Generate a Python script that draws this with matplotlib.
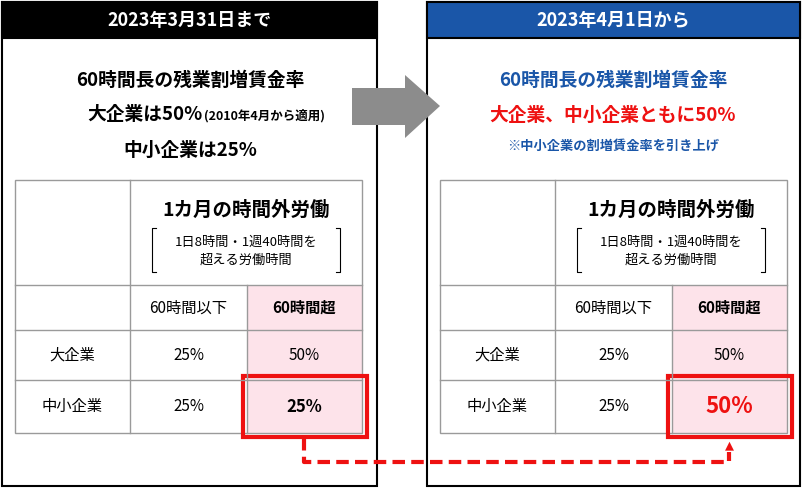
import matplotlib
matplotlib.use("Agg")
import matplotlib.pyplot as plt
from matplotlib.patches import Rectangle, Polygon, FancyArrowPatch

plt.rcParams["font.family"] = "Noto Sans CJK JP"

# data
headers = ["2023年3月31日まで", "2023年4月1日から"]
col_labels = ["60時間以下", "60時間超"]
row_labels = ["大企業", "中小企業"]
rates_before = [["25%", "50%"], ["25%", "25%"]]
rates_after = [["25%", "50%"], ["25%", "50%"]]

BLUE = "#1a56a8"
RED = "#ee1111"
PINK = "#fde3ea"
GRID = "#9a9a9a"

fig = plt.figure(figsize=(8.03, 4.88), dpi=100)
ax = fig.add_axes([0, 0, 1, 1])
ax.set_xlim(0, 803)
ax.set_ylim(488, 0)
ax.axis("off")


def panel(x0, x1, head_col, title):
    ax.add_patch(Rectangle((x0, 2), x1 - x0, 484, fc="white", ec="black", lw=1.5))
    ax.add_patch(Rectangle((x0, 2), x1 - x0, 36, fc=head_col, ec="black", lw=1.5))
    ax.text((x0 + x1) / 2, 20, title, color="white", fontsize=13, weight="bold",
            ha="center", va="center")


def table(x0, rates, last_big):
    xs = [x0, x0 + 115, x0 + 232, x0 + 347]
    ys = [180, 285, 330, 380, 433]
    ax.add_patch(Rectangle((xs[2], ys[1]), xs[3] - xs[2], ys[4] - ys[1], fc=PINK, ec="none"))
    ax.add_patch(Rectangle((xs[0], ys[0]), xs[3] - xs[0], ys[4] - ys[0], fc="none", ec=GRID, lw=1))
    for y in ys[1:-1]:
        ax.plot([xs[0], xs[3]], [y, y], color=GRID, lw=1)
    ax.plot([xs[1], xs[1]], [ys[0], ys[4]], color=GRID, lw=1)
    ax.plot([xs[2], xs[2]], [ys[1], ys[4]], color=GRID, lw=1)
    cx = (xs[1] + xs[3]) / 2
    ax.text(cx, 210, "1カ月の時間外労働", fontsize=14, weight="bold", ha="center", va="center")
    ax.text(cx, 251, "1日8時間・1週40時間を\n超える労働時間", fontsize=9.5, ha="center",
            va="center", linespacing=1.5)
    for bx, s in [(cx - 94, 1), (cx + 94, -1)]:
        ax.plot([bx + 4 * s, bx, bx, bx + 4 * s], [228, 228, 272, 272], color="black", lw=0.8)
    for j, lab in enumerate(col_labels):
        ax.text((xs[j + 1] + xs[j + 2]) / 2, 308, lab, fontsize=11,
                weight="bold" if j == 1 else "normal", ha="center", va="center")
    for i, lab in enumerate(row_labels):
        yc = (ys[i + 2] + ys[i + 3]) / 2
        ax.text((xs[0] + xs[1]) / 2, yc, lab, fontsize=11, ha="center", va="center")
        for j in range(2):
            big = i == 1 and j == 1
            col = RED if (big and last_big) else "black"
            fs = 16 if (big and last_big) else (12 if big else 11)
            ax.text((xs[j + 1] + xs[j + 2]) / 2, yc, rates[i][j], fontsize=fs, color=col,
                    weight="bold" if big else "normal", ha="center", va="center")
    ax.add_patch(Rectangle((xs[2] - 4, ys[3] - 4), xs[3] - xs[2] + 9, ys[4] - ys[3] + 8,
                           fc="none", ec=RED, lw=3))
    return (xs[2] + xs[3]) / 2


panel(2, 377, "black", headers[0])
panel(427, 800, BLUE, headers[1])

# arrow between panels
ax.add_patch(Polygon([(352, 88), (405, 88), (405, 75), (440, 106), (405, 138), (405, 125), (352, 125)],
                     closed=True, fc="#8c8c8c", ec="none", zorder=5))

ax.text(190, 80, "60時間長の残業割増賃金率", fontsize=13.5, weight="bold", ha="center", va="center")
ax.text(203, 114, "大企業は50%", fontsize=13.5, weight="bold", ha="right", va="center")
ax.text(204, 116, "(2010年4月から適用)", fontsize=9, weight="bold", ha="left", va="center")
ax.text(190, 150, "中小企業は25%", fontsize=13.5, weight="bold", ha="center", va="center")

ax.text(613, 80, "60時間長の残業割増賃金率", fontsize=13.5, weight="bold", color=BLUE, ha="center", va="center")
ax.text(613, 115, "大企業、中小企業ともに50%", fontsize=13.5, weight="bold", color=RED, ha="center", va="center")
ax.text(613, 146, "※中小企業の割増賃金率を引き上げ", fontsize=9.5, weight="bold", color=BLUE, ha="center", va="center")

xl = table(15, rates_before, False)
xr = table(440, rates_after, True)

# dashed connector
ax.plot([xl, xl, xr, xr], [438, 462, 462, 452], color=RED, lw=3, ls=(0, (3, 1.5)), zorder=6)
ax.add_patch(FancyArrowPatch((xr, 456), (xr, 439), arrowstyle="-|>", mutation_scale=16,
                             color=RED, lw=0, zorder=6))

fig.savefig("out.png", dpi=100)
